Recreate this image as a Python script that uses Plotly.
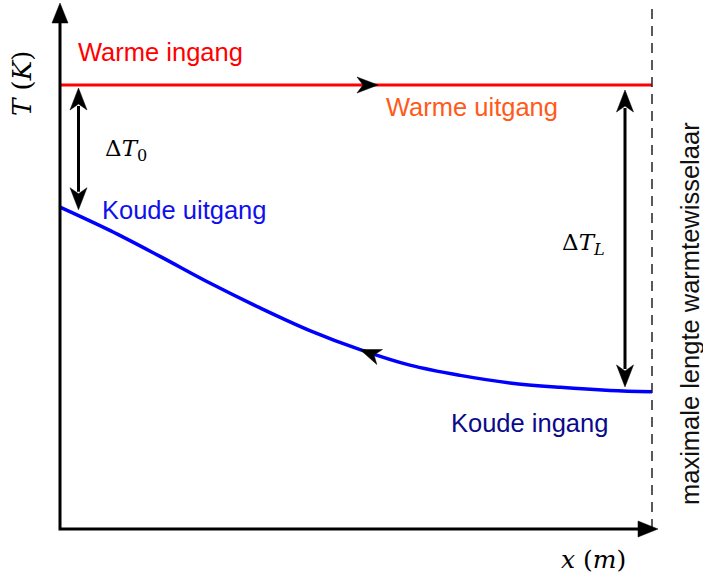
import numpy as np
import plotly.graph_objects as go

# ---------------------------------------------------------------------------
# Temperature profile along a counter-flow heat exchanger
# ---------------------------------------------------------------------------
L_EXCH = 10.0                      # maximum exchanger length (m)

x_hot = [0.0, 10.0]                # warm stream position (m)
T_hot = [100.0, 100.0]             # warm stream temperature (K)

x_cold = [0.0, 0.85, 1.69, 2.53, 3.38, 4.22, 5.07, 5.91, 6.76, 7.60, 8.45, 9.29, 10.0]
T_cold = [72.5, 67.2, 61.4, 55.4, 49.8, 44.7, 40.4, 36.9, 34.6, 32.9, 31.9, 31.2, 30.9]

# ---------------------------------------------------------------------------
# Canvas / scale set-up (zero margins, so axis ranges define the pixel scale)
# ---------------------------------------------------------------------------
W, H = 703, 574
PX_X = 59.2          # pixels per metre
PX_T = 4.44          # pixels per kelvin
ORIG_X, ORIG_Y = 60, 529

x_range = [-ORIG_X / PX_X, (W - ORIG_X) / PX_X]
T_range = [-(H - ORIG_Y) / PX_T, ORIG_Y / PX_T]


def to_x(px):
    return (px - ORIG_X) / PX_X


def to_T(py):
    return (ORIG_Y - py) / PX_T


def cold_at(x):
    return float(np.interp(x, x_cold, T_cold))


def head(tip_x, tip_T, ux, uy, length, width, notch=0.0):
    """Filled arrowhead; (ux, uy) is the pointing direction in screen pixels."""
    n = np.hypot(ux, uy)
    ux, uy = ux / n, uy / n
    qx, qy = -uy, ux
    pts = [
        (0.0, 0.0),
        (-length * ux + width / 2 * qx, -length * uy + width / 2 * qy),
        (-(length - notch) * ux, -(length - notch) * uy),
        (-length * ux - width / 2 * qx, -length * uy - width / 2 * qy),
    ]
    coords = [(tip_x + dx / PX_X, tip_T - dy / PX_T) for dx, dy in pts]
    path = "M " + " L ".join(f"{a:.4f},{b:.4f}" for a, b in coords) + " Z"
    return dict(type="path", path=path, xref="x", yref="y",
                fillcolor="black", line=dict(color="black", width=0.5), layer="above")


fig = go.Figure()

fig.add_trace(go.Scatter(x=x_hot, y=T_hot, mode="lines",
                         line=dict(color="#FF0000", width=3), hoverinfo="skip"))
fig.add_trace(go.Scatter(x=x_cold, y=T_cold, mode="lines",
                         line=dict(color="#0000FF", width=3.5, shape="spline", smoothing=1.0),
                         hoverinfo="skip"))

shapes = []

# dashed line marking the maximum exchanger length
Y_TOP = to_T(5)
shapes.append(dict(type="line", xref="x", yref="y", x0=L_EXCH, x1=L_EXCH, y0=0, y1=Y_TOP,
                   line=dict(color="#222222", width=1.5, dash="10px,7px"), layer="above"))

# axes with arrowheads
AX_HEAD_L, AX_HEAD_W = 20, 16
y_tip = to_T(3)
x_tip = to_x(658)
shapes.append(dict(type="path", xref="x", yref="y",
                   path=(f"M 0,{y_tip - (AX_HEAD_L - 2) / PX_T:.4f} L 0,0 "
                         f"L {x_tip - (AX_HEAD_L - 2) / PX_X:.4f},0"),
                   line=dict(color="black", width=3), layer="above"))
shapes.append(head(0, y_tip, 0, -1, AX_HEAD_L, AX_HEAD_W))
shapes.append(head(x_tip, 0, 1, 0, AX_HEAD_L, AX_HEAD_W))

# flow direction arrows
FL_L, FL_W, FL_N = 21, 16, 6
hot_tip = to_x(378)
shapes.append(head(hot_tip, T_hot[0], 1, 0, FL_L, FL_W, FL_N))

cold_tip = to_x(360)
d = 0.3
dT = cold_at(cold_tip - d) - cold_at(cold_tip)
shapes.append(head(cold_tip, cold_at(cold_tip), -d * PX_X, -dT * PX_T, FL_L, FL_W, FL_N))


# temperature-difference double arrows
def double_arrow(x, T_top, T_bot):
    HL, HW, HN = 22, 17, 6
    shapes.append(dict(type="line", xref="x", yref="y", x0=x, x1=x,
                       y0=T_top - (HL - 4) / PX_T, y1=T_bot + (HL - 4) / PX_T,
                       line=dict(color="black", width=3), layer="above"))
    shapes.append(head(x, T_top, 0, -1, HL, HW, HN))
    shapes.append(head(x, T_bot, 0, 1, HL, HW, HN))


x_d0 = to_x(78.5)
double_arrow(x_d0, T_hot[0] - 3 / PX_T, cold_at(x_d0) + 6 / PX_T)
x_dL = to_x(625)
double_arrow(x_dL, T_hot[0] - 5 / PX_T, cold_at(x_dL) + 4 / PX_T)

SANS = "Liberation Sans, Arial, sans-serif"
SERIF = "DejaVu Serif, serif"
annotations = []


def label(text, px, py, color, family=SANS, size=25.5, angle=0):
    annotations.append(dict(text=text, x=to_x(px), y=to_T(py), xref="x", yref="y",
                            showarrow=False, xanchor="center", yanchor="middle",
                            textangle=angle, font=dict(family=family, size=size, color=color)))


label("Warme ingang", 160, 51.5, "#FF0000")
label("Warme uitgang", 471.5, 106.5, "#FF5A1A")
label("Koude uitgang", 184, 209.5, "#1010EE")
label("Koude ingang", 529, 423, "#0A0A8A")
label("Δ<i>T</i><sub>0</sub>", 126, 150, "black", SERIF, 23)
label("Δ<i>T</i><sub><i>L</i></sub>", 583, 244, "black", SERIF, 23)
label("<i>T</i> (<i>K</i>)", 21.5, 83.5, "black", SERIF, 26, -90)
label("<i>x</i> (<i>m</i>)", 593, 559, "black", SERIF, 25)
label("maximale lengte warmtewisselaar", 690, 314, "#111111", SANS, 25.5, -90)

fig.update_layout(
    width=W, height=H,
    margin=dict(l=0, r=0, t=0, b=0),
    paper_bgcolor="white", plot_bgcolor="white",
    showlegend=False,
    xaxis=dict(range=x_range, visible=False, fixedrange=True),
    yaxis=dict(range=T_range, visible=False, fixedrange=True),
    shapes=shapes,
    annotations=annotations,
)

fig.write_html("out.html")
